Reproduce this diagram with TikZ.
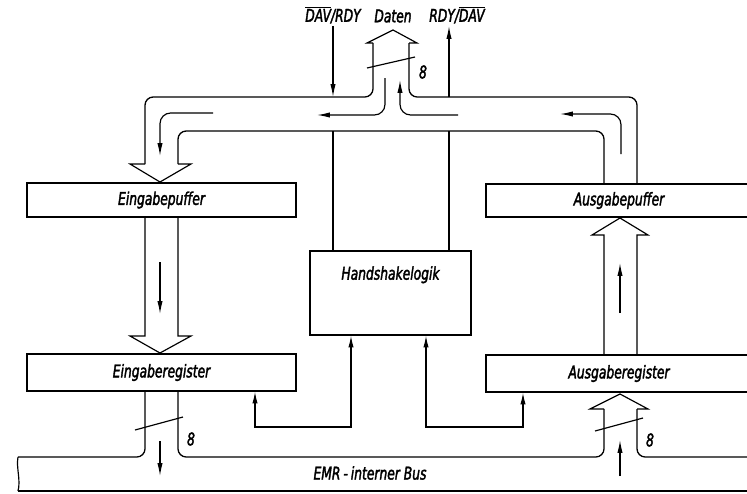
\documentclass[tikz,border=0pt]{standalone}
\usepackage{fontspec}
\setmainfont{DejaVu Sans}[FakeStretch=0.7, FakeBold=2]
\usetikzlibrary{arrows.meta}

\tikzset{
  box/.style={draw, line width=1.1pt, inner sep=0pt, font=\itshape\fontsize{15}{18}\selectfont},
  lbl/.style={font=\itshape\fontsize{15}{18}\selectfont, inner sep=2pt},
  chan/.style={line width=1.1pt, rounded corners=7},
  sline/.style={line width=1pt},
  sig/.style={line width=1pt, -{Latex[length=11pt,width=4.5pt]}},
  sigboth/.style={line width=1pt, {Latex[length=10pt,width=4.5pt]}-{Latex[length=10pt,width=4.5pt]}},
}
\newcommand\ovl[1]{$\overline{\hbox{#1}}$}

\begin{document}
\begin{tikzpicture}[x=0.03cm, y=-0.03cm]
    \useasboundingbox (0,0) rectangle (747,493);
    \clip (0,0) rectangle (747,493);

    % Blocks
    \node[box, minimum width=8.07cm, minimum height=1.02cm] (ebuf) at (161.5,200) {Eingabepuffer};
    \node[box, minimum width=8.07cm, minimum height=1.11cm] (ereg) at (161.5,372.5) {Eingaberegister};
    \node[box, minimum width=7.98cm, minimum height=0.99cm] (abuf) at (619,200.5) {Ausgabepuffer};
    \node[box, minimum width=7.98cm, minimum height=1.11cm] (areg) at (619,373.5) {Ausgaberegister};
    \node[box, minimum width=4.83cm, minimum height=2.52cm,
          label={[lbl, anchor=north, yshift=-0.4cm]north:Handshakelogik}] (hs) at (390.5,293) {};

    % Labels on top and on the bus
    \node[lbl] (davrdy) at (333,15) {\ovl{DAV}/RDY};
    \node[lbl] (daten) at (393,16) {Daten};
    \node[lbl] (rdydav) at (457,15) {RDY/\ovl{DAV}};
    \node[lbl] (bus) at (370,473) {EMR\,-\,interner Bus};

    \coordinate (topl) at (0,97);
    \coordinate (dl) at (333,131);
    \coordinate (dr) at (449,131);

    % Upper channel, outer edge with the Daten arrow
    \draw[chan] (145,164) -- (145,97) -- (373,97) -- (373,43);
    \draw[sline] (373,43) -- (367,43) -- (393,30) -- (417,43) -- (409,43);
    \draw[chan] (409,43) -- (409,97) -- (637,97) -- (637,184);
    % Upper channel, inner edge
    \draw[sline] (145,164) -- (130,164) -- (160,182) -- (191,164) -- (178,164);
    \draw[chan] (178,164) -- (178,131) -- (604,131) -- (604,184);

    % Eingabepuffer -> Eingaberegister
    \draw[sline] (145,217) -- (145,336) -- (130,336) -- (160,353) -- (191,336) -- (178,336) -- (178,217);
    % Ausgaberegister -> Ausgabepuffer
    \draw[sline] (604,355) -- (604,235) -- (592,235) -- (620,218) -- (648,235) -- (637,235) -- (637,355);

    % Bus
    \draw[chan] (145,391) -- (145,457) -- (18,457);
    \draw[chan] (178,391) -- (178,457) -- (604,457) -- (604,409);
    \draw[sline] (604,409) -- (590,409) -- (620,394) -- (648,409) -- (637,409);
    \draw[chan] (637,409) -- (637,457) -- (750,457);
    \draw[sline] (18,491) -- (750,491);
    \draw[sline] (18,457) .. controls (16,468) and (21,480) .. (18,491);

    % Data flow inside the channels
    \draw[sig, rounded corners=9] (213,113) -- (160,113) -- (160,156);
    \draw[sig, rounded corners=9] (385,78) -- (385,115) -- (317,115);
    \draw[sig, rounded corners=9] (458,115) -- (400,115) -- (400,80);
    \draw[sig, rounded corners=9] (621,154) -- (621,114) -- (560,114);
    \draw[sig] (160,262) -- (160,314);
    \draw[sig] (620,313) -- (620,263);
    \draw[sig] (160,441) -- (160,476);
    \draw[sig] (620,476) -- (620,440);

    % Bus width marks
    \draw[sline] (367,68) -- (415,57);
    \node[lbl] at (423,72) {8};
    \draw[sline] (135,430) -- (183,417);
    \node[lbl] at (191,439) {8};
    \draw[sline] (595,431) -- (643,418);
    \node[lbl] at (650,440) {8};

    % Handshake signals
    \draw[sig] (davrdy.south) -- (davrdy.south |- topl);
    \draw[sig] (dr |- topl) -- (rdydav.south -| dr);
    \draw[sline] (dl) -- (dl |- hs.north);
    \draw[sline] (dr) -- (dr |- hs.north);
    \draw[sigboth] (ereg.south -| 255,0) |- (351,427) -- (hs.south -| 351,0);
    \draw[sigboth] (hs.south -| 426,0) |- (523,427) -- (areg.south -| 523,0);
\end{tikzpicture}
\end{document}
